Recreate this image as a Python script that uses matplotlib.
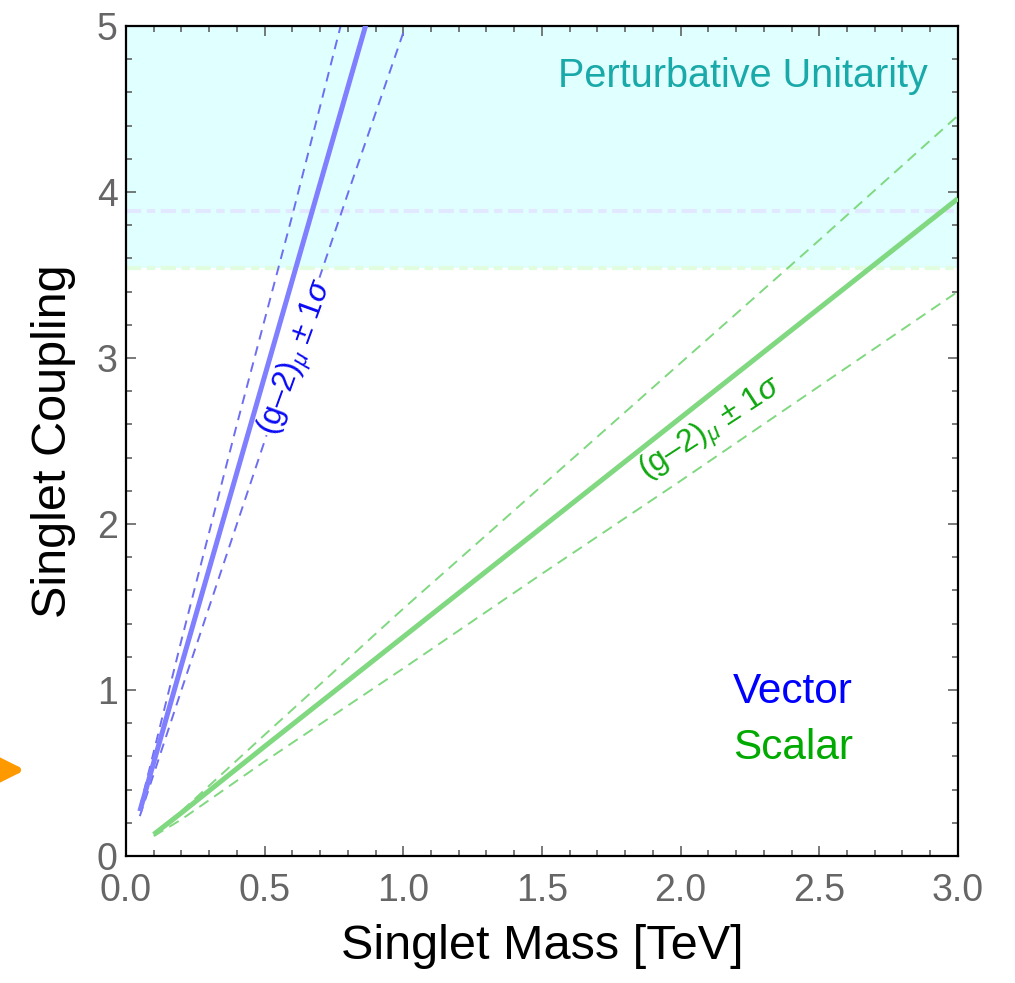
import numpy as np
import matplotlib
matplotlib.use("Agg")
import matplotlib.pyplot as plt
from matplotlib.ticker import MultipleLocator

plt.rcParams['font.family'] = ['Liberation Sans', 'DejaVu Sans']
plt.rcParams['mathtext.fontset'] = 'custom'
plt.rcParams['mathtext.rm'] = 'Liberation Sans'
plt.rcParams['mathtext.it'] = 'Liberation Sans:italic'
plt.rcParams['lines.scale_dashes'] = False

# vector singlet: coupling vs mass (TeV), central and +-1 sigma bands
vec_mass = [0.05, 0.2, 0.4, 0.6, 0.8, 1.0]
vec_central = [0.27, 1.15, 2.31, 3.47, 4.63, 5.79]
vec_upper = [0.29, 1.30, 2.60, 3.86, 5.17, 6.46]
vec_lower = [0.24, 1.00, 2.00, 3.00, 3.99, 4.96]

# scalar singlet
sca_mass = [0.1, 0.2, 0.5, 1.0, 1.5, 2.0, 2.5, 3.0]
sca_central = [0.13, 0.26, 0.66, 1.32, 1.98, 2.64, 3.30, 3.96]
sca_upper = [0.13, 0.27, 0.73, 1.49, 2.23, 2.97, 3.71, 4.46]
sca_lower = [0.12, 0.22, 0.57, 1.13, 1.70, 2.26, 2.83, 3.40]

# perturbative unitarity limits on the coupling
unit_vec = 3.886
unit_sca = 3.54

xticks = [0.0, 0.5, 1.0, 1.5, 2.0, 2.5, 3.0]
yticks = [0, 1, 2, 3, 4, 5]

blue = '#7f7fff'
blue_d = '#6e6ef2'
green = '#80d880'
sig_label = r'(g–2)$_{\mu}$ ± 1$\sigma$'

fig = plt.figure(figsize=(10.15, 9.83), dpi=100)
ax = fig.add_axes([0.1241, 0.1292, 0.8197, 0.8444])

# unitarity region
ax.axhspan(min(unit_vec, unit_sca), 5, color='#e0ffff', zorder=0, lw=0)
ax.axhline(unit_vec, color='#e2e8ff', lw=3, dashes=(11, 4, 6, 4), zorder=1)
ax.axhline(unit_sca, color='#e0fde0', lw=3, dashes=(11, 4, 6, 4), zorder=1)

# vector
ax.plot(vec_mass, vec_central, color=blue, lw=3.6, solid_capstyle='butt', zorder=3)
ax.plot(vec_mass, vec_upper, color=blue_d, lw=1.4, dashes=(7, 5), zorder=2)
ax.plot(vec_mass, vec_lower, color=blue_d, lw=1.4, dashes=(7, 5), zorder=2)

# scalar
ax.plot(sca_mass, sca_central, color=green, lw=3.6, solid_capstyle='butt', zorder=3)
ax.plot(sca_mass, sca_upper, color=green, lw=1.4, dashes=(8, 5), zorder=2)
ax.plot(sca_mass, sca_lower, color=green, lw=1.4, dashes=(8, 5), zorder=2)

box = dict(facecolor='white', edgecolor='none', pad=1)
ax.text(2.224, 4.70, 'Perturbative Unitarity', color='#19a9a9', fontsize=28.5,
        ha='center', va='center')
ax.text(0.618, 3.0, sig_label, color='#0a0af5', fontsize=23, rotation=70,
        ha='center', va='center', rotation_mode='anchor', bbox=box, zorder=2.5)
ax.text(2.11, 2.57, sig_label, color='#10a810', fontsize=23, rotation=33,
        ha='center', va='center', rotation_mode='anchor', zorder=2.5)
ax.text(2.404, 0.988, 'Vector', color='#0000ff', fontsize=30.5, ha='center', va='center')
ax.text(2.404, 0.651, 'Scalar', color='#00aa00', fontsize=30.5, ha='center', va='center')

ax.set_xlim(0, 3)
ax.set_ylim(0, 5)
ax.set_xticks(xticks)
ax.set_xticklabels(['%.1f' % v for v in xticks])
ax.set_yticks(yticks)
ax.xaxis.set_minor_locator(MultipleLocator(0.1))
ax.yaxis.set_minor_locator(MultipleLocator(0.2))
ax.tick_params(which='both', direction='in', top=True, right=True, color='#555555',
               labelcolor='#666666', labelsize=27)
ax.tick_params(which='major', length=7.5, width=1.1)
ax.tick_params(which='minor', length=4.5, width=1.1)
ax.tick_params(axis='x', pad=12)
ax.tick_params(axis='y', pad=6)
for s in ax.spines.values():
    s.set_linewidth(1.6)
    s.set_color('black')

ax.set_xlabel('Singlet Mass [TeV]', fontsize=35, labelpad=11)
ax.set_ylabel('Singlet Coupling', fontsize=35, labelpad=15)

# bit of the neighbouring figure's arrow poking in from the left
ax.annotate('', xy=(28, 213), xycoords='figure pixels', xytext=(-15, 213),
            textcoords='figure pixels',
            arrowprops=dict(arrowstyle='-|>', color='#ff9900', lw=5, mutation_scale=50))

fig.savefig('out.png', dpi=100)
